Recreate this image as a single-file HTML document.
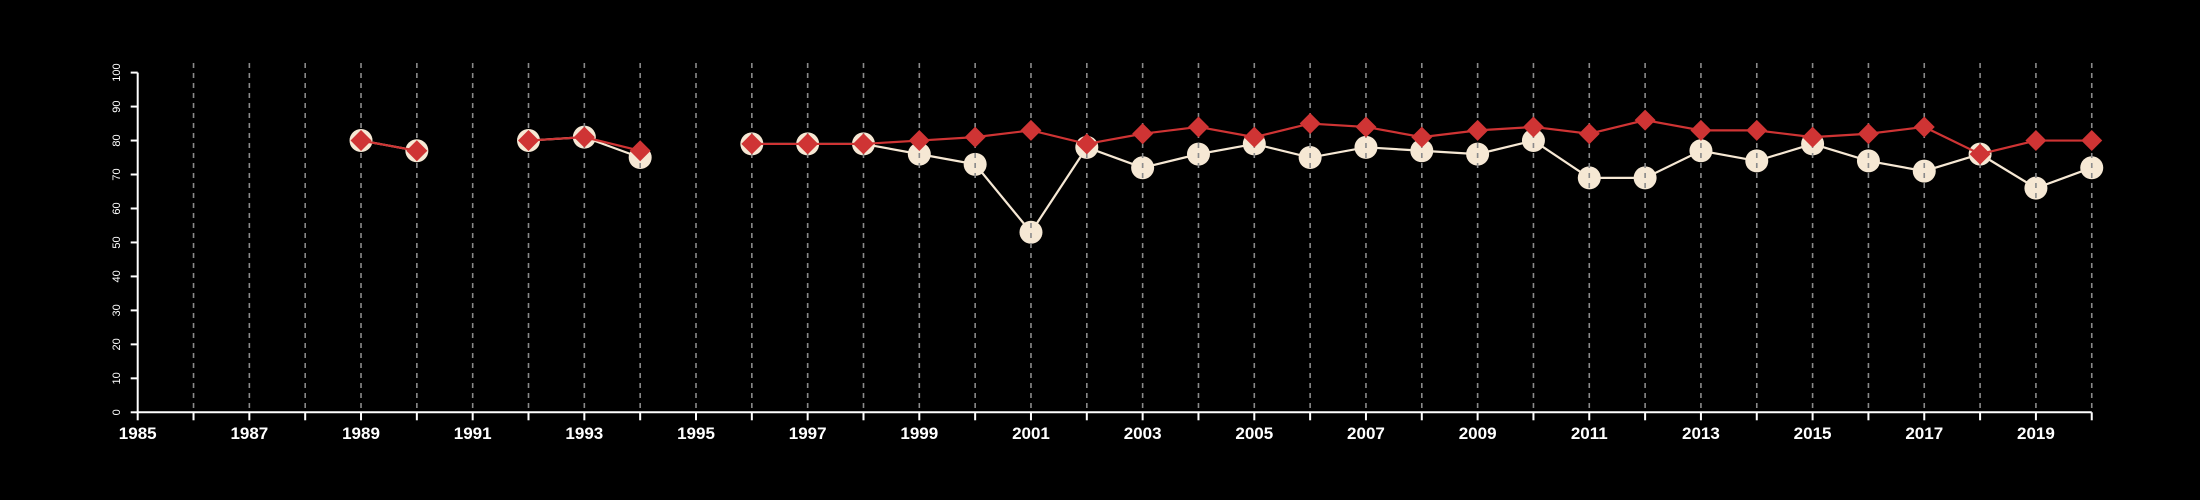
<!DOCTYPE html>
<html><head><meta charset="utf-8"><style>
html,body{margin:0;padding:0;background:#000;}
svg{display:block;font-family:"Liberation Sans",sans-serif;}
</style></head><body>
<svg id="chart" width="2200" height="500" viewBox="0 0 2200 500" xmlns="http://www.w3.org/2000/svg">
<rect width="2200" height="500" fill="#000"/>
<g id="g-cream"></g>
<g id="g-grid"></g>
<g id="g-red"></g>
<g id="g-axes"></g>
</svg>
<script>
const years = [1985,1986,1987,1988,1989,1990,1991,1992,1993,1994,1995,1996,1997,1998,1999,2000,2001,2002,2003,2004,2005,2006,2007,2008,2009,2010,2011,2012,2013,2014,2015,2016,2017,2018,2019,2020];
const creamValues = [null,null,null,null,80,77,null,80,81,75,null,79,79,79,76,73,53,78,72,76,79,75,78,77,76,80,69,69,77,74,79,74,71,76,66,72];
const redValues = [null,null,null,null,80,77,null,80,81,77,null,79,79,79,80,81,83,79,82,84,81,85,84,81,83,84,82,86,83,83,81,82,84,76,80,80];
const yTicks = [0,10,20,30,40,50,60,70,80,90,100];
const xLabels = [1985,1987,1989,1991,1993,1995,1997,1999,2001,2003,2005,2007,2009,2011,2013,2015,2017,2019];

const NS = "http://www.w3.org/2000/svg";
const X0 = 137.7, XW = 55.83, Y0 = 412.3, YS = 3.397;
const xs = v => X0 + (v - 1985) * XW;
const ys = v => Y0 - v * YS;
function mk(tag, attrs, parent){const e=document.createElementNS(NS,tag);for(const k in attrs)e.setAttribute(k,attrs[k]);parent.appendChild(e);return e;}

function drawLine(vals, color, g){
  let seg=[];
  const flush=()=>{ if(seg.length>1){
    const p = mk('polyline',{points:seg.join(' '),fill:'none',stroke:color,'stroke-width':2.2},g);
    
    
  } seg=[]; };
  vals.forEach((v,i)=>{ if(v===null){flush();} else seg.push(xs(years[i])+','+ys(v)); });
  flush();
}

const gc = document.getElementById('g-cream');
drawLine(creamValues,'#f6e8d4',gc);
creamValues.forEach((v,i)=>{ if(v===null) return;
  const c = mk('circle',{cx:xs(years[i]),cy:ys(v),r:11.5,fill:'#f6e8d4'},gc);
  
  
});

const gg = document.getElementById('g-grid');
years.forEach(y=>{ if(y===1985) return;
  const l = mk('line',{x1:xs(y),x2:xs(y),y1:63,y2:Y0,stroke:'#8a8a8a','stroke-width':1.6,'stroke-dasharray':'5,5'},gg);
  
  
});

const gr = document.getElementById('g-red');
drawLine(redValues,'#cf3434',gr);
redValues.forEach((v,i)=>{ if(v===null) return;
  const cx=xs(years[i]), cy=ys(v), d=10.5;
  const p = mk('polygon',{points:`${cx},${cy-d} ${cx+d},${cy} ${cx},${cy+d} ${cx-d},${cy}`,fill:'#cf3434'},gr);
  
  
});

const ga = document.getElementById('g-axes');
const ya = mk('line',{x1:X0,x2:X0,y1:ys(100),y2:Y0,stroke:'#fff','stroke-width':2},ga);


yTicks.forEach(t=>{
  const l = mk('line',{x1:X0-7,x2:X0,y1:ys(t),y2:ys(t),stroke:'#fff','stroke-width':2},ga);
  
  
  const tx = mk('text',{x:0,y:0,fill:'#fff','font-size':11,'text-anchor':'middle',transform:`translate(120,${ys(t)}) rotate(-90)`},ga);
  tx.textContent=t;
  
  
});
const xa = mk('line',{x1:X0,x2:xs(2020),y1:Y0,y2:Y0,stroke:'#fff','stroke-width':2},ga);


years.forEach(y=>{
  const l = mk('line',{x1:xs(y),x2:xs(y),y1:Y0,y2:Y0+8,stroke:'#fff','stroke-width':2},ga);
  
  
});
xLabels.forEach(y=>{
  const tx = mk('text',{x:xs(y),y:439,fill:'#fff','font-size':17,'font-weight':'bold','text-anchor':'middle'},ga);
  tx.textContent=y;
  
  
});
</script>
</body></html>
